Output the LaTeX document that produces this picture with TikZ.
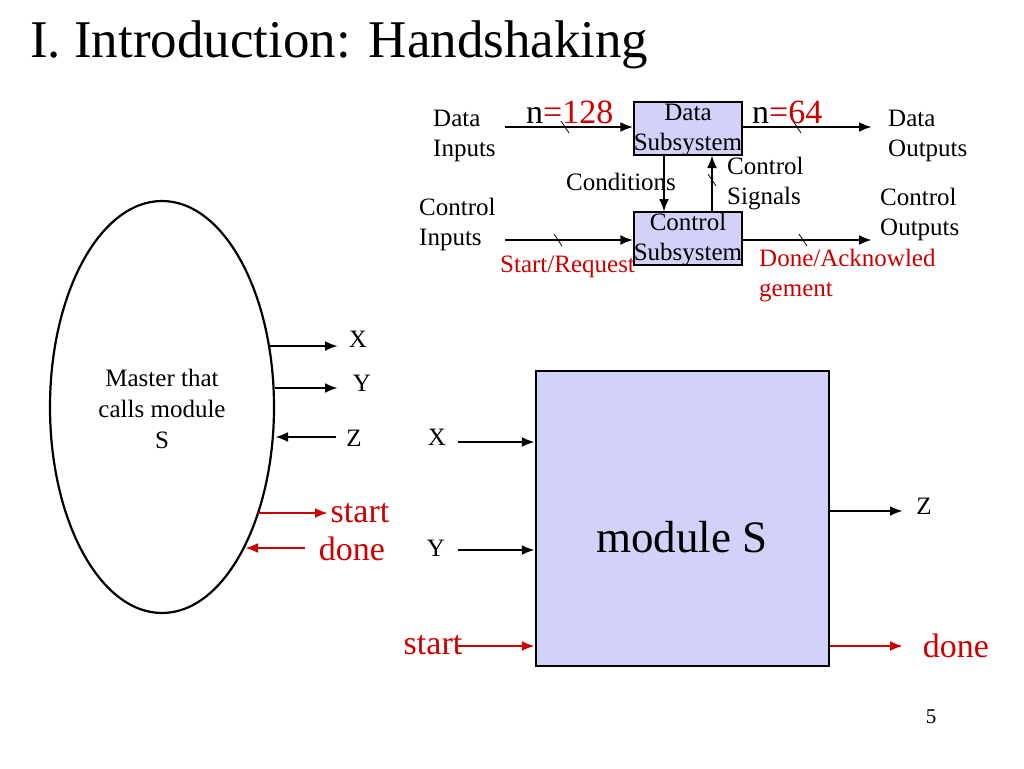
\documentclass[tikz,border=0pt]{standalone}
\usepackage{fontspec}
\setmainfont{Liberation Serif}
\usetikzlibrary{arrows.meta,shapes.geometric}
\definecolor{dred}{RGB}{204,0,0}
\definecolor{box}{RGB}{210,210,248}
\begin{document}
\begin{tikzpicture}[x=1pt,y=-1pt,
 ar/.style={line width=2.6pt,-{Latex[length=13pt,width=10pt]}},
 rar/.style={ar,draw=dred,color=dred},
 t/.style={font=\fontsize{25}{30}\selectfont,align=left,inner sep=0},
 rt/.style={t,text=dred},
 bx/.style={draw,fill=box,line width=1.2pt}]
\useasboundingbox (0,0) rectangle (1024,768);
\node[anchor=base west,font=\fontsize{53}{60}\selectfont,inner sep=0] (title) at (30,58) {I. Introduction: Handshaking};
% top diagram
\node[bx,minimum width=108pt,minimum height=53pt] (ds) at (688,128.5) {};
\node[font=\fontsize{25}{30}\selectfont,align=center,inner sep=0] (dsl) at (688,130) {Data\\Subsystem};
\node[bx,minimum width=108pt,minimum height=53pt] (cs) at (688,238.5) {};
\node[font=\fontsize{25}{30}\selectfont,align=center,inner sep=0] (csl) at (688,240) {Control\\Subsystem};
\coordinate (di) at (505,127); \coordinate (do) at (872,127);
\coordinate (ci) at (505,240); \coordinate (co) at (872,240);
\draw[ar] (di) -- (ds.west |- di);
\draw[ar] (ds.east |- do) -- (do);
\draw[ar] (ci) -- (cs.west |- ci);
\draw[ar] (cs.east |- co) -- (co);
\draw[ar] (664,155) -- (664,212);
\draw[ar] (712,212) -- (712,155);
\foreach \x/\y in {565/127,797/127,558/240,803/240,712/180}
  \draw[line width=0.8pt] (\x-4,\y-6) -- (\x+4,\y+6);
\node[t,anchor=west] (dil) at (433,136) {Data\\Inputs};
\node[t,anchor=west] (dol) at (888,136) {Data\\Outputs};
\node[t,anchor=west] (cil) at (419,224) {Control\\Inputs};
\node[t,anchor=west] (col) at (880,214) {Control\\Outputs};
\node[t,anchor=west] (cond) at (566,182) {Conditions};
\node[t,anchor=west] (csig) at (727,184) {Control\\Signals};
\node[rt,anchor=west] (sr) at (500,267) {Start/Request};
\node[rt,anchor=west] (da) at (759,276) {Done/Acknowled\\gement};
\node[anchor=west,font=\fontsize{34}{38}\selectfont,inner sep=0] (n1) at (526,112) {n\textcolor{dred}{=128}};
\node[anchor=west,font=\fontsize{34}{38}\selectfont,inner sep=0] (n2) at (752,112) {n\textcolor{dred}{=64}};
% master
\node[draw,line width=2.2pt,ellipse,minimum width=224pt,minimum height=412pt,inner sep=0] (m) at (162,407) {};
\node[t,align=center,font=\fontsize{25}{31}\selectfont] (ml) at (162,409) {Master that\\calls module\\S};
\draw[ar] (270,346) -- (338,346) coordinate (mx);
\draw[ar] (275,388) -- (338,388) coordinate (my);
\draw[ar] (336,437) coordinate (mz) -- (275,437);
\draw[rar] (258,513) -- (328,513) coordinate (ms);
\draw[rar] (305,548) coordinate (md) -- (245,548);
\node[t] at (358,339) {X};
\node[t] at (362,383) {Y};
\node[t] at (354,438) {Z};
\node[font=\fontsize{34}{36}\selectfont,text=dred,inner sep=0] at (360,513) {start};
\node[font=\fontsize{34}{36}\selectfont,text=dred,inner sep=0] at (352,549) {done};
% module S
\node[bx,line width=2.2pt,minimum width=293pt,minimum height=295pt] (s) at (682.5,518.5) {};
\node[font=\fontsize{45}{50}\selectfont,inner sep=0] (sl) at (682,537) {module S};
\coordinate (sx) at (458,442); \coordinate (sy) at (458,550); \coordinate (ss) at (457,646);
\coordinate (sz) at (903,511); \coordinate (sd) at (903,646);
\draw[ar] (sx) -- (s.west |- sx);
\draw[ar] (sy) -- (s.west |- sy);
\draw[rar] (ss) -- (s.west |- ss);
\draw[ar] (s.east |- sz) -- (sz);
\draw[rar] (s.east |- sd) -- (sd);
\node[t] at (437,437) {X};
\node[t] at (436,548) {Y};
\node[t] at (924,506) {Z};
\node[font=\fontsize{34}{36}\selectfont,text=dred,inner sep=0] at (433,645) {start};
\node[font=\fontsize{34}{36}\selectfont,text=dred,inner sep=0] at (956,646) {done};
\node[font=\fontsize{21}{24}\selectfont,inner sep=0] (pg) at (931,717) {5};
\end{tikzpicture}
\end{document}
